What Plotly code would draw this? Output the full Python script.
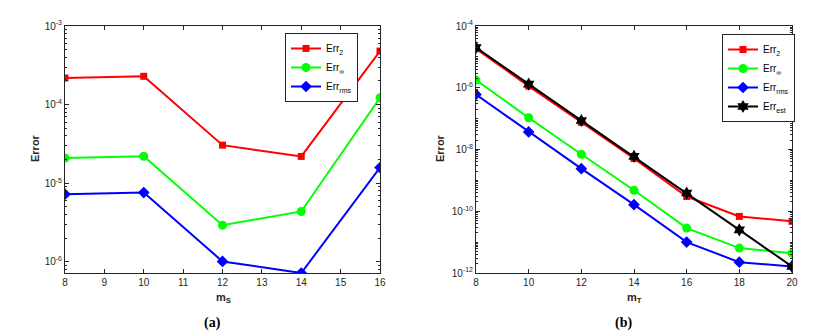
import plotly.graph_objects as go
import numpy as np

# ---- data ----
ms = [8, 10, 12, 14, 16]
a_err2 = [2.18e-4, 2.29e-4, 3.05e-5, 2.19e-5, 4.8e-4]
a_errinf = [2.09e-5, 2.2e-5, 2.92e-6, 4.37e-6, 1.22e-4]
a_errrms = [7.24e-6, 7.6e-6, 1.01e-6, 7.2e-7, 1.58e-5]

mt = [8, 10, 12, 14, 16, 18, 20]
b_err2 = [1.84e-5, 1.13e-6, 7.6e-8, 5.1e-9, 3.0e-10, 6.8e-11, 4.7e-11]
b_errinf = [1.77e-6, 1.07e-7, 7.0e-9, 4.8e-10, 2.85e-11, 6.4e-12, 4.4e-12]
b_errrms = [6.05e-7, 3.7e-8, 2.4e-9, 1.63e-10, 1.0e-11, 2.24e-12, 1.63e-12]
b_errest = [2.0e-5, 1.31e-6, 8.7e-8, 6.0e-9, 3.9e-10, 2.5e-11, 1.63e-12]

a_yticks = [1e-6, 1e-5, 1e-4, 1e-3]
a_yticktext = ["10<sup>-6</sup>", "10<sup>-5</sup>", "10<sup>-4</sup>", "10<sup>-3</sup>"]
b_yticks = [1e-12, 1e-10, 1e-8, 1e-6, 1e-4]
b_yticktext = ["10<sup>-12</sup>", "10<sup>-10</sup>", "10<sup>-8</sup>", "10<sup>-6</sup>", "10<sup>-4</sup>"]

W, H = 817, 335
fig = go.Figure()

RED, GREEN, BLUE, BLACK = "#FF0000", "#00FF00", "#0000FF", "#000000"

def add(x, y, name, color, symbol, size, xa, ya, legend):
    fig.add_trace(go.Scatter(x=x, y=y, name=name, mode="lines+markers",
                             line=dict(color=color, width=2),
                             marker=dict(color=color, symbol=symbol, size=size, line=dict(width=0)),
                             xaxis=xa, yaxis=ya, legend=legend))

add(ms, a_err2, "Err<sub>2</sub>", RED, "square", 7, "x", "y", "legend")
add(ms, a_errinf, "Err<sub>∞</sub>", GREEN, "circle", 9, "x", "y", "legend")
add(ms, a_errrms, "Err<sub>rms</sub>", BLUE, "diamond", 9, "x", "y", "legend")

add(mt, b_err2, "Err<sub>2</sub>", RED, "square", 7, "x2", "y2", "legend2")
add(mt, b_errinf, "Err<sub>∞</sub>", GREEN, "circle", 9, "x2", "y2", "legend2")
add(mt, b_errrms, "Err<sub>rms</sub>", BLUE, "diamond", 9, "x2", "y2", "legend2")
add(mt, b_errest, "Err<sub>est</sub>", BLACK, "hexagram", 10, "x2", "y2", "legend2")

def minor_vals(lo, hi):
    v = []
    for k in range(lo, hi):
        for m in range(2, 10):
            v.append(m * 10.0 ** k)
    return v

tickfont = dict(family="Liberation Sans, Arial", size=10, color="#262626")
axcommon = dict(showline=True, linecolor="#262626", linewidth=1, mirror="ticks",
                ticks="inside", ticklen=4, tickcolor="#262626", showgrid=False,
                zeroline=False, tickfont=tickfont, automargin=False)

L1, R1 = 65 / W, 380 / W
L2, R2 = 476 / W, 792 / W
T, B = 1 - 26 / H, 1 - 273 / H

fig.update_layout(
    width=W, height=H, margin=dict(l=0, r=0, t=0, b=0), autosize=False,
    paper_bgcolor="white", plot_bgcolor="white", showlegend=True,
    xaxis=dict(domain=[L1, R1], anchor="y", range=[8, 16], tickvals=list(range(8, 17)), **axcommon),
    yaxis=dict(domain=[B, T], anchor="x", type="log", range=[np.log10(7.2e-7), -3],
               tickvals=a_yticks, ticktext=a_yticktext,
               minor=dict(tickmode="array", tickvals=minor_vals(-7, -3), ticks="inside", ticklen=2,
                          tickcolor="#262626", showgrid=False),
               **axcommon),
    xaxis2=dict(domain=[L2, R2], anchor="y2", range=[8, 20], tickvals=list(range(8, 21, 2)), **axcommon),
    yaxis2=dict(domain=[B, T], anchor="x2", type="log", range=[-12, -4],
                tickvals=b_yticks, ticktext=b_yticktext,
                minor=dict(tickmode="array", tickvals=minor_vals(-12, -4) + [1e-11, 1e-9, 1e-7, 1e-5],
                           ticks="inside", ticklen=2, tickcolor="#262626", showgrid=False),
                **axcommon),
    legend=dict(x=285 / W, y=1 - 33 / H, xanchor="left", yanchor="top",
                bordercolor="#262626", borderwidth=1, bgcolor="white",
                font=dict(family="Liberation Sans, Arial", size=10, color="#000"),
                tracegroupgap=0, itemwidth=30),
    legend2=dict(x=722 / W, y=1 - 34 / H, xanchor="left", yanchor="top",
                 bordercolor="#262626", borderwidth=1, bgcolor="white",
                 font=dict(family="Liberation Sans, Arial", size=10, color="#000"),
                 tracegroupgap=0, itemwidth=30),
)

ann_font = dict(family="Liberation Sans, Arial", size=11, color="#262626")
cap_font = dict(family="Liberation Serif, Times New Roman", size=14, color="#000")
annots = [
    dict(text="<b>Error</b>", x=35 / W, y=1 - 148 / H, textangle=-90, font=ann_font),
    dict(text="<b>Error</b>", x=(405 + 35) / W, y=1 - 148 / H, textangle=-90, font=ann_font),
    dict(text="<b>m<sub>S</sub></b>", x=224 / W, y=1 - 298 / H, font=ann_font),
    dict(text="<b>m<sub>T</sub></b>", x=634 / W, y=1 - 298 / H, font=ann_font),
    dict(text="<b>(a)</b>", x=212 / W, y=1 - 323 / H, font=cap_font),
    dict(text="<b>(b)</b>", x=623 / W, y=1 - 323 / H, font=cap_font),
]
for a in annots:
    fig.add_annotation(xref="paper", yref="paper", showarrow=False, xanchor="center", yanchor="middle", **a)

fig.write_html("out.html", config={"displayModeBar": False},
               post_script="document.body.style.margin='0';document.body.style.overflow='hidden';")
